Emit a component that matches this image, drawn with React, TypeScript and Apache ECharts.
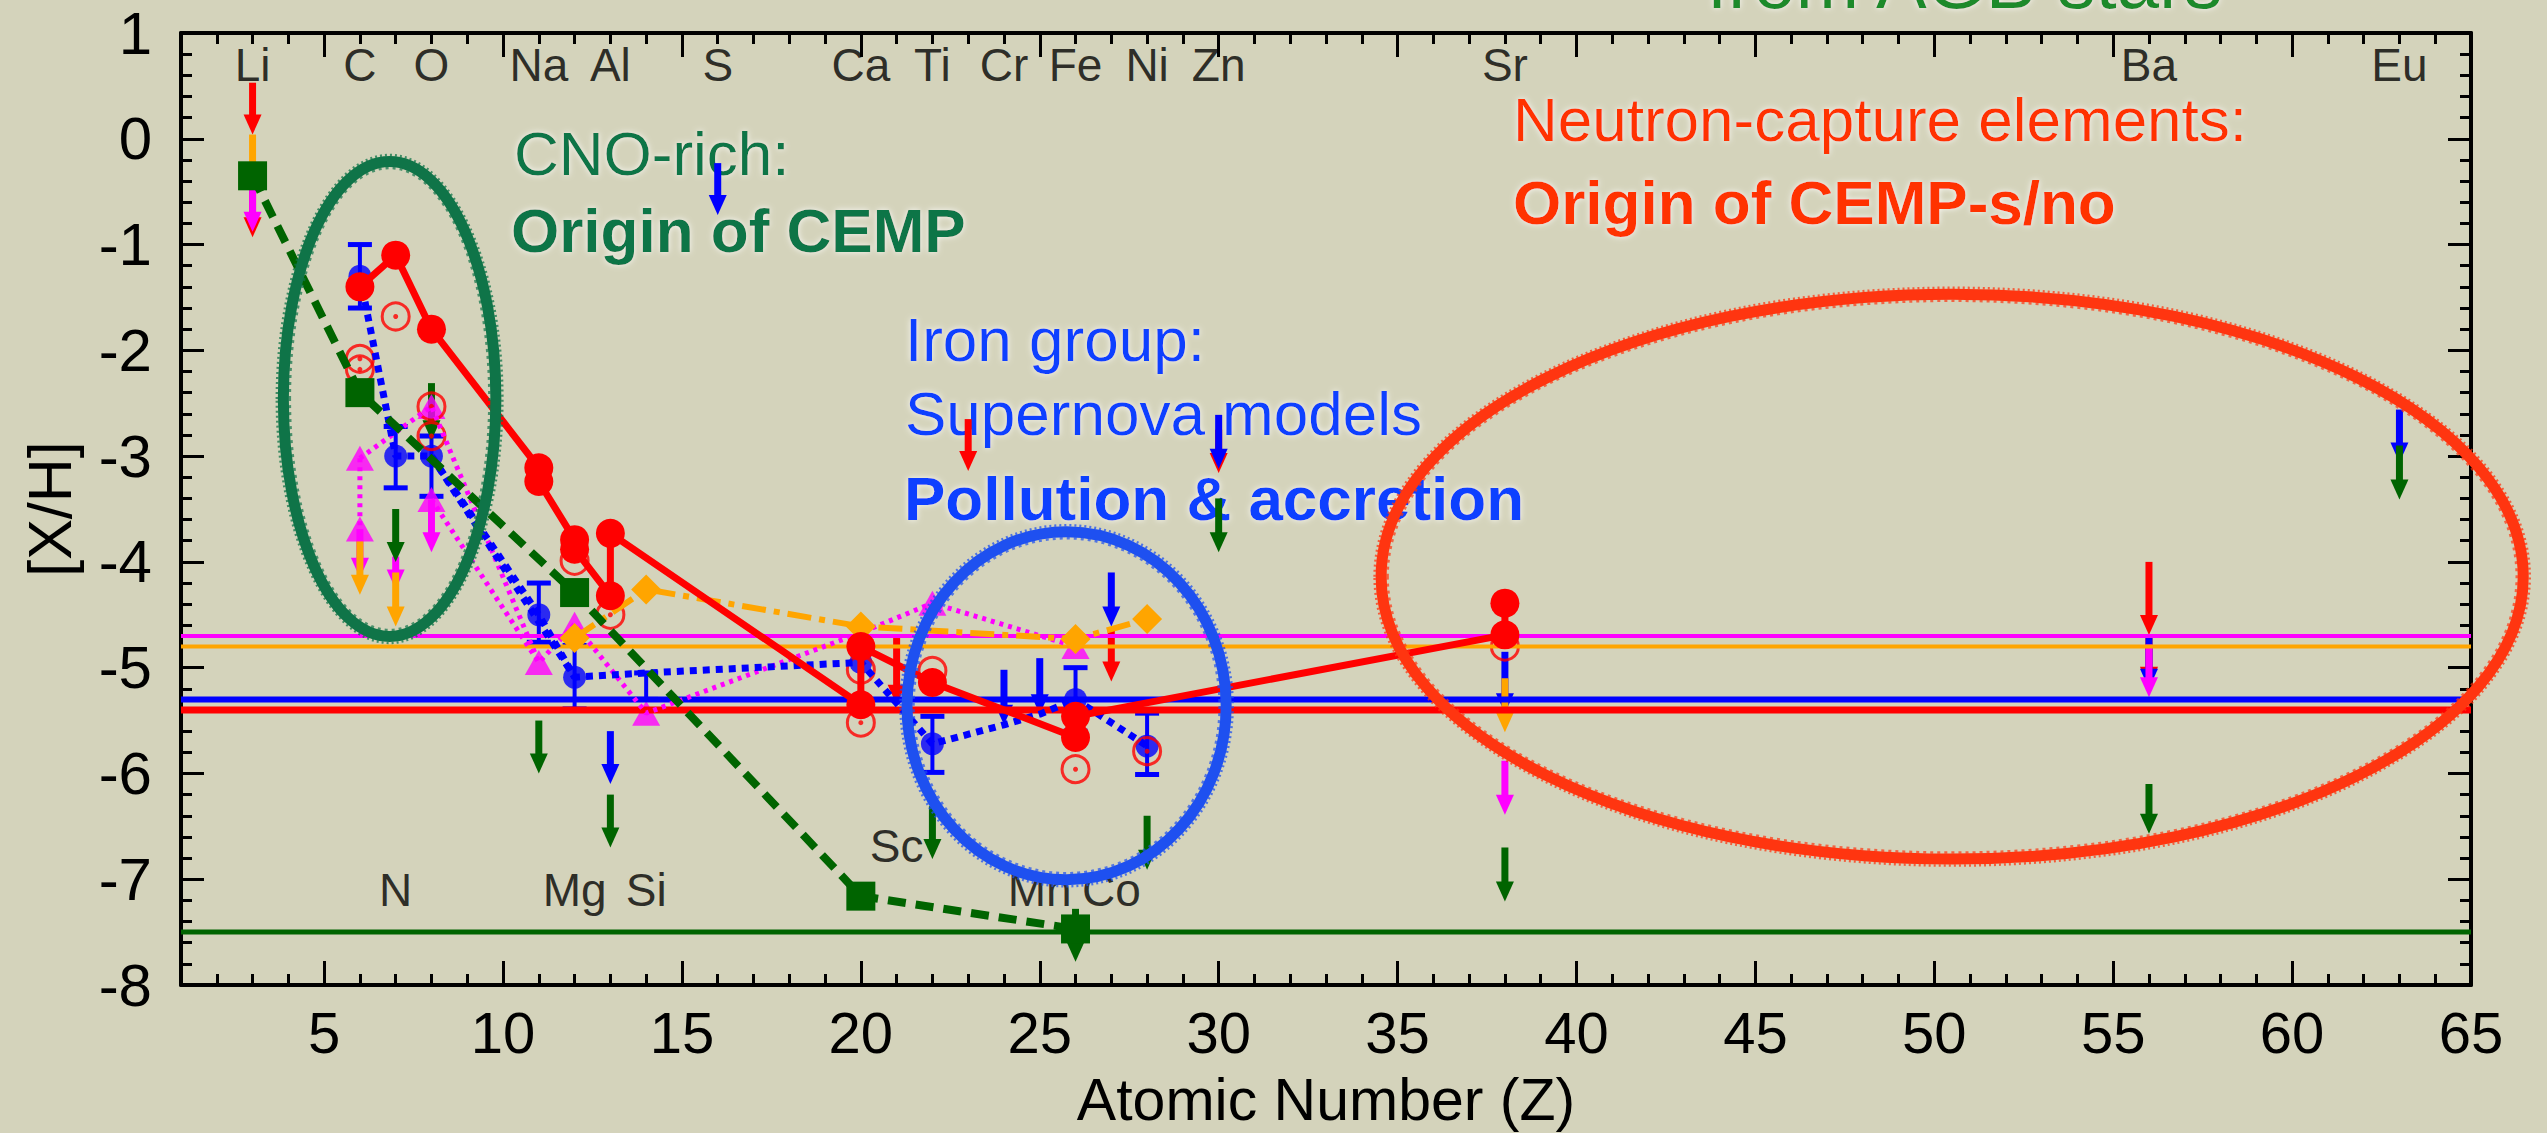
import React, { useEffect, useRef } from "react";
import * as echarts from "echarts";

const FONT = '"Liberation Sans", Arial, Helvetica, sans-serif';

// ---- axis ticks (atomic number Z, abundance [X/H]) ----
const zTicksMajor = [5, 10, 15, 20, 25, 30, 35, 40, 45, 50, 55, 60, 65];
const zTicksMinor = [
  2, 3, 4, 6, 7, 8, 9, 11, 12, 13, 14, 16, 17, 18, 19, 21, 22, 23, 24, 26, 27, 28, 29, 31, 32, 33, 34,
  36, 37, 38, 39, 41, 42, 43, 44, 46, 47, 48, 49, 51, 52, 53, 54, 56, 57, 58, 59, 61, 62, 63, 64,
];

// ---- element names written inside the frame ----
const upperElements = ["Li", "C", "O", "Na", "Al", "S", "Ca", "Ti", "Cr", "Fe", "Ni", "Zn", "Sr", "Ba", "Eu"];
const upperElementZ = [3, 6, 8, 11, 13, 16, 20, 22, 24, 26, 28, 30, 38, 56, 63];
const lowerElements = ["N", "Mg", "Si", "Sc", "Mn", "Co"];
const lowerElementZ = [7, 12, 14, 21, 25, 27];
const lowerElementRow = [-7.1, -7.1, -7.1, -6.69, -7.1, -7.1];
const UPPER_ROW = 0.7;

// ---- red star: measured abundances (filled) and alternative values (open) ----
const redMeasured = [
  [6, -1.4], [7, -1.1], [8, -1.8], [11, -3.11], [11, -3.24], [12, -3.79], [12, -3.88], [13, -4.32],
  [13, -3.73], [20, -5.35], [20, -4.8], [22, -5.14], [26, -5.66], [26, -5.46], [38, -4.69], [38, -4.39],
];
const redAlternative = [
  [6, -2.08], [6, -2.18], [7, -1.68], [8, -2.53], [8, -2.81], [12, -3.99], [13, -4.5],
  [20, -5.02], [20, -5.52], [22, -5.03], [26, -5.96], [28, -5.79], [38, -4.8],
];

// ---- blue star ----
const bluePath = [
  [6, -1.3], [7, -3.0], [8, -3.0], [11, -4.5], [12, -5.09], [14, -5.05], [20, -4.95],
  [22, -5.72], [24, -5.54], [25, -5.44], [26, -5.3], [28, -5.74],
];
const blueBranch = [[8, -3.0], [12, -5.09]];
const blueMeasured = [
  [6, -1.3], [7, -3.0], [8, -3.0], [11, -4.5], [12, -5.09], [20, -4.95], [22, -5.72], [26, -5.3], [28, -5.74],
];
// [Z, upper end, lower end]
const blueErrors = [
  [6, -1.0, -1.6], [7, -2.72, -3.3], [8, -2.81, -3.38], [11, -4.2, -4.76], [12, -4.79, -5.39],
  [14, -5.05, -5.3], [22, -5.46, -5.99], [26, -5.0, -5.6], [28, -5.43, -6.01],
];

// ---- magenta star ----
const magentaPath = [
  [6, -3.02], [8, -2.53], [11, -4.95], [12, -4.59], [14, -5.43], [20, -4.67], [22, -4.39], [26, -4.8],
];
const magentaBranch = [[8, -3.41], [11, -4.95]];
const magentaCarbonRange = [[6, -3.02], [6, -3.69]];
const magentaMeasured = [
  [6, -3.02], [6, -3.69], [8, -2.53], [8, -3.41], [11, -4.95], [12, -4.59], [14, -5.43],
  [20, -4.67], [22, -4.39], [26, -4.8],
];

// ---- orange star ----
const orangeMeasured = [[12, -4.72], [14, -4.26], [20, -4.61], [26, -4.73], [28, -4.54]];

// ---- green star ----
const greenMeasured = [[3, -0.35], [6, -2.4], [12, -4.29], [20, -7.16], [26, -7.47]];

// ---- [Fe/H] of each star ----
const ironLevelMagenta = -4.7;
const ironLevelOrange = -4.8;
const ironLevelBlue = -5.3;
const ironLevelRed = -5.4;
const ironLevelGreen = -7.5;

// ---- upper limits: [Z, start of arrow, arrow tip] ----
const redLimits = [
  [3, 0.53, 0.04], [3, -0.45, -0.93], [21, -4.72, -5.35], [23, -2.65, -3.14], [27, -4.64, -5.13],
  [30, -2.75, -3.16], [56, -4.0, -4.69], [56, -4.69, -5.18],
];
const blueLimits = [
  [16, -0.23, -0.72], [13, -5.6, -6.1], [24, -5.02, -5.54], [25, -4.91, -5.44], [27, -4.1, -4.61],
  [30, -2.61, -3.12], [38, -4.85, -5.43], [56, -4.72, -5.2], [63, -2.56, -3.06],
];
const magentaLimits = [
  [3, -0.45, -0.88], [6, -3.69, -4.15], [7, -3.95, -4.26], [8, -3.41, -3.91], [38, -5.88, -6.39],
  [56, -4.78, -5.28],
];
const orangeLimits = [[3, 0.04, -0.45], [6, -3.8, -4.31], [7, -4.1, -4.61], [38, -5.1, -5.61]];
const greenLimits = [
  [7, -3.5, -4.0], [8, -2.31, -2.85], [11, -5.5, -6.0], [13, -6.2, -6.7], [22, -6.31, -6.81],
  [26, -7.28, -7.78], [28, -6.4, -6.91], [30, -3.4, -3.91], [38, -6.7, -7.21], [56, -6.1, -6.57],
  [63, -2.9, -3.41],
];

const RED = "#ff0000";
const BLUE = "#0000ff";
const MAGENTA = "#ff00ff";
const ORANGE = "#ffa500";
const GREEN = "#006400";

function arrowSeries(data: number[][], color: string) {
  return {
    type: "custom",
    silent: true,
    clip: false,
    data,
    encode: { x: 0, y: [1, 2] },
    renderItem: (_params: any, api: any) => {
      const z = api.value(0);
      const start = api.coord([z, api.value(1)]);
      const tip = api.coord([z, api.value(2)]);
      const headLen = 20;
      const headHalf = 9;
      return {
        type: "group",
        children: [
          {
            type: "line",
            shape: { x1: start[0], y1: start[1], x2: tip[0], y2: tip[1] - headLen + 2 },
            style: { stroke: color, lineWidth: 7 },
          },
          {
            type: "polygon",
            shape: {
              points: [
                [tip[0] - headHalf, tip[1] - headLen],
                [tip[0] + headHalf, tip[1] - headLen],
                [tip[0], tip[1]],
              ],
            },
            style: { fill: color },
          },
        ],
      };
    },
  };
}

function ringSeries(ring: number[], color: string, width: number) {
  return {
    type: "custom",
    silent: true,
    clip: false,
    z: 5,
    data: [ring],
    encode: { x: 0, y: 1 },
    renderItem: (_params: any, api: any) => {
      const c = api.coord([api.value(0), api.value(1)]);
      const s = api.size([api.value(2), api.value(3)]);
      const base = { cx: c[0], cy: c[1] };
      return {
        type: "group",
        children: [
          {
            type: "ellipse",
            shape: { ...base, rx: s[0], ry: s[1] },
            style: { fill: "none", stroke: color, lineWidth: width },
          },
          {
            type: "ellipse",
            shape: { ...base, rx: s[0] + width / 2 + 1, ry: s[1] + width / 2 + 1 },
            style: { fill: "none", stroke: color, lineWidth: 2.5, lineDash: [2, 3], opacity: 0.75 },
          },
          {
            type: "ellipse",
            shape: { ...base, rx: s[0] - width / 2 - 1, ry: s[1] - width / 2 - 1 },
            style: { fill: "none", stroke: color, lineWidth: 2.5, lineDash: [3, 4], opacity: 0.7 },
          },
        ],
      };
    },
  };
}

function levelSeries(level: number, color: string, width: number) {
  return {
    type: "line",
    silent: true,
    symbol: "none",
    xAxisIndex: 0,
    yAxisIndex: 0,
    data: [[1, level], [65, level]],
    lineStyle: { color, width },
  };
}

function annotation(text: string, x: number, y: number, color: string, bold: boolean, size = 62) {
  return {
    type: "text",
    x,
    y,
    z: 0,
    silent: true,
    style: {
      text,
      fill: color,
      fontSize: size,
      fontWeight: bold ? "bold" : "normal",
      fontFamily: FONT,
      verticalAlign: "middle",
      align: "left",
      textShadowColor: "rgba(255,255,255,0.85)",
      textShadowBlur: 6,
    },
  };
}

export default function App() {
  const ref = useRef<HTMLDivElement>(null);

  useEffect(() => {
    if (!ref.current) return;
    const chart = echarts.init(ref.current, null, { renderer: "svg" });

    const axisBlack = { color: "#000", width: 4 };
    const tickStyle = { color: "#000", width: 3 };

    const xBase = {
      type: "value",
      min: 1,
      max: 65,
      splitLine: { show: false },
      axisLabel: { show: false },
    };
    const yBase = {
      type: "value",
      min: -8,
      max: 1,
      interval: 1,
      splitLine: { show: false },
      minorSplitLine: { show: false },
    };

    const option: any = {
      animation: false,
      backgroundColor: "#d4d3bb",
      textStyle: { fontFamily: FONT },
      grid: { left: 181, right: 76, top: 33, bottom: 148, containLabel: false, outerBoundsMode: "none" },
      xAxis: [
        {
          ...xBase,
          position: "bottom",
          axisLine: { show: true, onZero: false, lineStyle: axisBlack },
          axisTick: { show: true, inside: true, length: 24, lineStyle: tickStyle, customValues: zTicksMajor },
          axisLabel: {
            show: true,
            customValues: zTicksMajor,
            fontSize: 58,
            color: "#000",
            margin: 18,
            fontFamily: FONT,
          },
          name: "Atomic Number (Z)",
          nameLocation: "middle",
          nameGap: 85,
          nameTextStyle: { fontSize: 59, color: "#000", fontFamily: FONT },
        },
        {
          ...xBase,
          position: "bottom",
          axisLine: { show: false, onZero: false },
          axisTick: { show: true, inside: true, length: 11, lineStyle: tickStyle, customValues: zTicksMinor },
        },
        {
          ...xBase,
          position: "top",
          axisLine: { show: true, onZero: false, lineStyle: axisBlack },
          axisTick: { show: true, inside: true, length: 24, lineStyle: tickStyle, customValues: zTicksMajor },
        },
        {
          ...xBase,
          position: "top",
          axisLine: { show: false, onZero: false },
          axisTick: { show: true, inside: true, length: 11, lineStyle: tickStyle, customValues: zTicksMinor },
        },
      ],
      yAxis: [
        {
          ...yBase,
          position: "left",
          axisLine: { show: true, onZero: false, lineStyle: axisBlack },
          axisTick: { show: true, inside: true, length: 23, lineStyle: tickStyle },
          minorTick: { show: true, splitNumber: 5, length: 11, lineStyle: tickStyle },
          axisLabel: { show: true, fontSize: 60, color: "#000", margin: 29, fontFamily: FONT },
          name: "[X/H]",
          nameLocation: "middle",
          nameGap: 101,
          nameRotate: 90,
          nameTextStyle: { fontSize: 61, color: "#000", fontFamily: FONT },
        },
        {
          ...yBase,
          position: "right",
          axisLine: { show: true, onZero: false, lineStyle: axisBlack },
          axisTick: { show: true, inside: true, length: 23, lineStyle: tickStyle },
          minorTick: { show: true, splitNumber: 5, length: 11, lineStyle: tickStyle },
          axisLabel: { show: false },
        },
      ],
      graphic: [
        annotation("CNO-rich:", 514, 153, "#0a7547", false),
        annotation("Origin of CEMP", 511, 230, "#0a7547", true),
        annotation("Iron group:", 905, 339, "#1040ff", false),
        annotation("Supernova models", 905, 413, "#1040ff", false),
        annotation("Pollution & accretion", 904, 498, "#1040ff", true),
        annotation("Neutron-capture elements:", 1513, 119, "#ff3300", false),
        annotation("Origin of CEMP-s/no", 1513, 202, "#ff3300", true),
        annotation("from AGB stars", 1707, -19, "#1d8a2a", false, 76),
      ],
      series: [
        // iron levels of the five stars
        levelSeries(ironLevelMagenta, MAGENTA, 4),
        levelSeries(ironLevelOrange, ORANGE, 4),
        levelSeries(ironLevelBlue, BLUE, 6),
        levelSeries(ironLevelRed, RED, 7),
        levelSeries(ironLevelGreen, GREEN, 5),

        // magenta star
        {
          type: "line",
          silent: true,
          symbol: "none",
          data: magentaPath,
          lineStyle: { color: MAGENTA, width: 5, type: [4, 5] },
        },
        {
          type: "line",
          silent: true,
          symbol: "none",
          data: magentaBranch,
          lineStyle: { color: MAGENTA, width: 5, type: [4, 5] },
        },
        {
          type: "line",
          silent: true,
          symbol: "none",
          data: magentaCarbonRange,
          lineStyle: { color: MAGENTA, width: 5, type: [4, 5] },
        },
        {
          type: "scatter",
          silent: true,
          symbol: "triangle",
          symbolSize: [28, 25],
          data: magentaMeasured,
          itemStyle: { color: MAGENTA },
        },

        // orange star
        {
          type: "line",
          silent: true,
          symbol: "diamond",
          symbolSize: 30,
          data: orangeMeasured,
          itemStyle: { color: ORANGE },
          lineStyle: { color: ORANGE, width: 6, type: [24, 8, 6, 8] },
        },

        // blue star
        {
          type: "line",
          silent: true,
          symbol: "none",
          data: bluePath,
          lineStyle: { color: BLUE, width: 7, type: [7, 6] },
        },
        {
          type: "line",
          silent: true,
          symbol: "none",
          data: blueBranch,
          lineStyle: { color: BLUE, width: 7, type: [7, 6] },
        },
        {
          type: "custom",
          silent: true,
          data: blueErrors,
          encode: { x: 0, y: [1, 2] },
          renderItem: (_params: any, api: any) => {
            const z = api.value(0);
            const hi = api.coord([z, api.value(1)]);
            const lo = api.coord([z, api.value(2)]);
            const cap = 12;
            return {
              type: "group",
              children: [
                { type: "line", shape: { x1: hi[0], y1: hi[1], x2: lo[0], y2: lo[1] }, style: { stroke: BLUE, lineWidth: 4 } },
                { type: "line", shape: { x1: hi[0] - cap, y1: hi[1], x2: hi[0] + cap, y2: hi[1] }, style: { stroke: BLUE, lineWidth: 5 } },
                { type: "line", shape: { x1: lo[0] - cap, y1: lo[1], x2: lo[0] + cap, y2: lo[1] }, style: { stroke: BLUE, lineWidth: 5 } },
              ],
            };
          },
        },
        {
          type: "scatter",
          silent: true,
          symbol: "circle",
          symbolSize: 23,
          data: blueMeasured,
          itemStyle: { color: BLUE },
        },

        // red star
        {
          type: "line",
          silent: true,
          symbol: "circle",
          symbolSize: 29,
          data: redMeasured,
          itemStyle: { color: RED },
          lineStyle: { color: RED, width: 7 },
        },
        {
          type: "scatter",
          silent: true,
          symbol: "circle",
          symbolSize: 27,
          data: redAlternative,
          itemStyle: { color: "rgba(0,0,0,0)", borderColor: RED, borderWidth: 3 },
        },
        {
          type: "scatter",
          silent: true,
          symbol: "circle",
          symbolSize: 5,
          data: redAlternative,
          itemStyle: { color: RED },
        },

        // upper limits
        arrowSeries(redLimits, RED),
        arrowSeries(blueLimits, BLUE),
        arrowSeries(magentaLimits, MAGENTA),
        arrowSeries(orangeLimits, ORANGE),
        arrowSeries(greenLimits, GREEN),

        // green star
        {
          type: "line",
          silent: true,
          symbol: "rect",
          symbolSize: 29,
          data: greenMeasured,
          itemStyle: { color: GREEN },
          lineStyle: { color: GREEN, width: 8, type: [18, 10] },
        },

        // element names
        {
          type: "scatter",
          silent: true,
          symbolSize: 1,
          itemStyle: { color: "rgba(0,0,0,0)" },
          data: upperElements.map((el, i) => ({ name: el, value: [upperElementZ[i], UPPER_ROW] })),
          label: { show: true, position: "inside", formatter: "{b}", fontSize: 46, color: "#000", fontFamily: FONT },
        },
        {
          type: "scatter",
          silent: true,
          symbolSize: 1,
          itemStyle: { color: "rgba(0,0,0,0)" },
          data: lowerElements.map((el, i) => ({ name: el, value: [lowerElementZ[i], lowerElementRow[i]] })),
          label: { show: true, position: "inside", formatter: "{b}", fontSize: 46, color: "#000", fontFamily: FONT },
        },

        // highlighted regions
        ringSeries([6.83, -2.46, 2.97, 2.245], "#0f7448", 11),
        ringSeries([25.75, -5.36, 4.46, 1.645], "#1e50f0", 11),
        ringSeries([50.5, -4.14, 15.96, 2.67], "#ff3510", 11),
      ],
    };

    chart.setOption(option);
    return () => chart.dispose();
  }, []);

  return (
    <div
      ref={ref}
      style={{ position: "fixed", left: 0, top: 0, width: 2547, height: 1133 }}
    />
  );
}
